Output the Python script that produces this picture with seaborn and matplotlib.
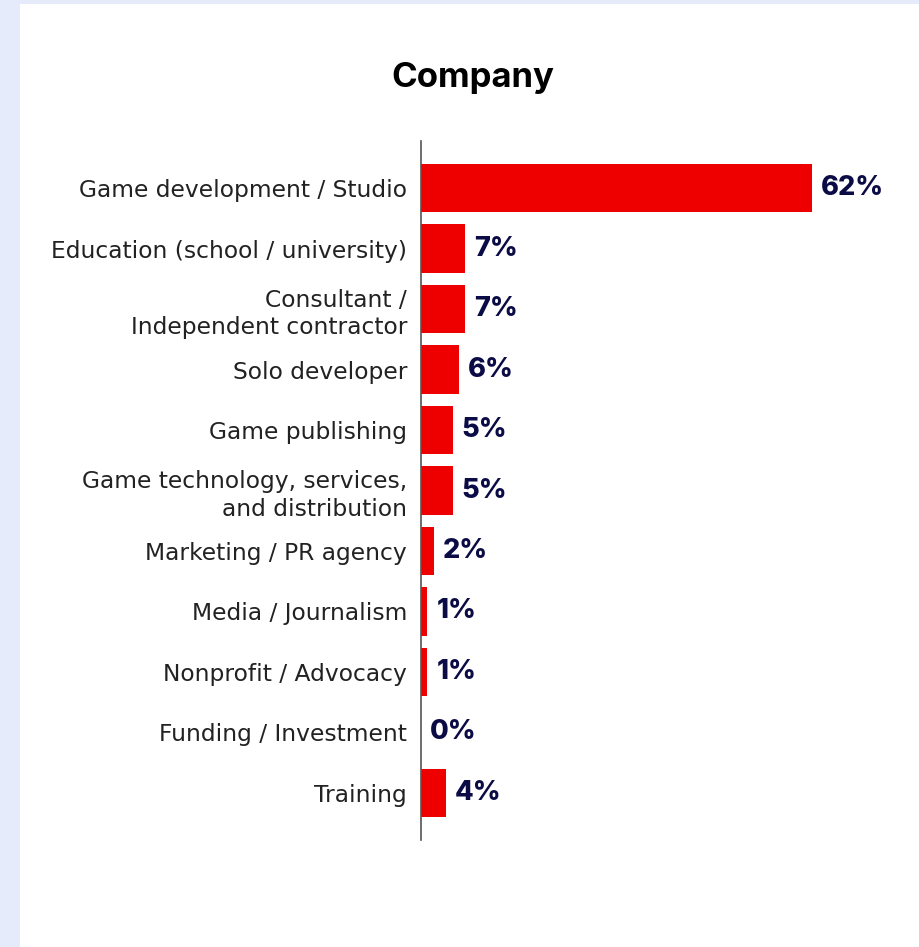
import matplotlib
matplotlib.use("Agg")
import matplotlib.pyplot as plt
import seaborn as sns
import pandas as pd
from matplotlib.patches import Rectangle

categories = [
    "Game development / Studio",
    "Education (school / university)",
    "Consultant /\nIndependent contractor",
    "Solo developer",
    "Game publishing",
    "Game technology, services,\nand distribution",
    "Marketing / PR agency",
    "Media / Journalism",
    "Nonprofit / Advocacy",
    "Funding / Investment",
    "Training",
]
values = [62, 7, 7, 6, 5, 5, 2, 1, 1, 0, 4]
value_labels = ["62%", "7%", "7%", "6%", "5%", "5%", "2%", "1%", "1%", "0%", "4%"]

title = "Company"
bar_color = "#ee0000"
label_color = "#0b0b45"
frame_color = "#e6ebfc"

df = pd.DataFrame({"category": categories, "value": values})

sns.set_theme(style="white")
plt.rcParams["font.family"] = ["Inter", "DejaVu Sans"]

W, H = 920, 947
fig = plt.figure(figsize=(W / 100, H / 100), dpi=100)
fig.patch.set_facecolor("white")

# lavender frame along the left and top edges
fig.patches.append(Rectangle((0, 0), 20 / W, 1, transform=fig.transFigure,
                             facecolor=frame_color, edgecolor="none", zorder=0))
fig.patches.append(Rectangle((0, 1 - 4 / H), 1, 4 / H, transform=fig.transFigure,
                             facecolor=frame_color, edgecolor="none", zorder=0))

ax_left, ax_right = 421, 880
ax_top, ax_bottom = 141, 840
ax = fig.add_axes([ax_left / W, 1 - ax_bottom / H,
                   (ax_right - ax_left) / W, (ax_bottom - ax_top) / H])
ax.set_facecolor("none")

sns.barplot(data=df, y="category", x="value", orient="h", color=bar_color,
            saturation=1, width=0.8, ax=ax)

xmax = (ax_right - ax_left) / 6.31
ax.set_xlim(0, xmax)
ax.set_ylim(len(categories) - 1 + 0.78, -0.78)

for patch in ax.patches:
    patch.set_edgecolor("none")

for i, (v, lab) in enumerate(zip(values, value_labels)):
    ax.annotate(lab, xy=(v, i), xytext=(9, 0), textcoords="offset pixels",
                ha="left", va="center", fontsize=19.5, fontweight="heavy",
                color=label_color)

ax.set_xlabel("")
ax.set_ylabel("")
ax.set_xticks([])
ax.tick_params(axis="y", length=0, pad=10, labelsize=16.8, labelcolor="#222222")
for t in ax.get_yticklabels():
    t.set_linespacing(1.25)
    t.set_family(["DejaVu Sans"])
    t.set_fontweight("normal")

for side in ["top", "right", "bottom"]:
    ax.spines[side].set_visible(False)
ax.spines["left"].set_color("#555555")
ax.spines["left"].set_linewidth(1.2)

fig.text(473 / W, 1 - 78 / H, title, ha="center", va="center",
         fontsize=25, fontweight="bold", color="black")

fig.savefig("out.png", dpi=100, facecolor="white")
